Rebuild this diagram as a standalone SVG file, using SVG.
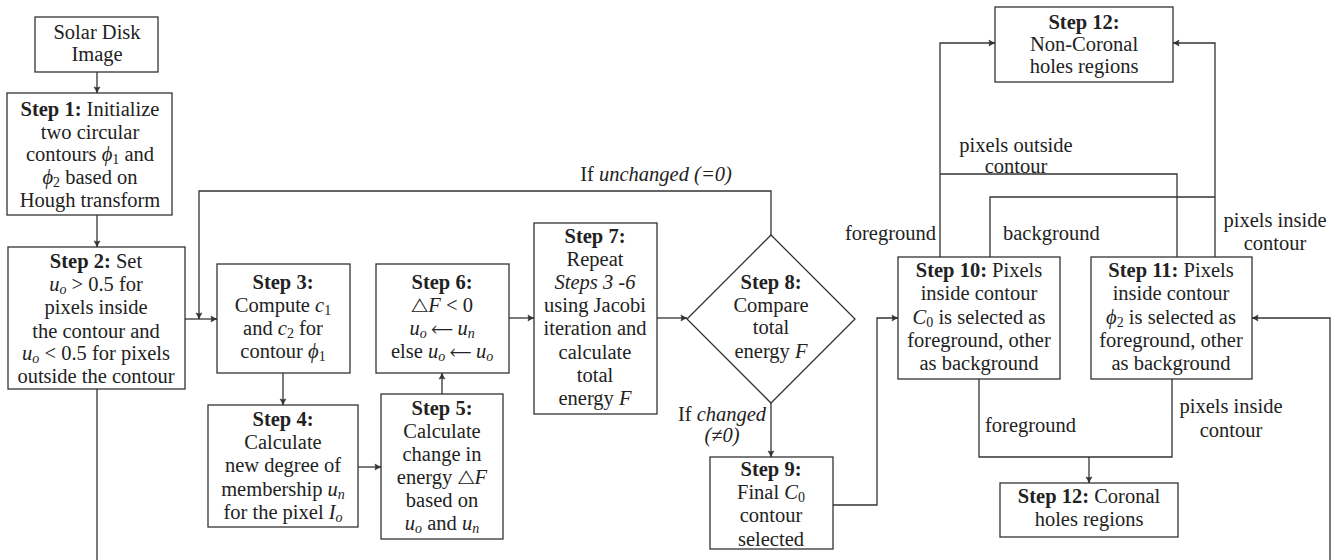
<svg xmlns="http://www.w3.org/2000/svg" width="1338" height="560" viewBox="0 0 1338 560">
<style>
.t{font-family:"Liberation Serif","Times New Roman",Tinos,"Nimbus Roman","Nimbus Roman No9 L",FreeSerif,Times,"DejaVu Serif","Noto Serif",Georgia,serif;font-size:20.5px;fill:#222;text-anchor:middle}
.l{text-anchor:start}
.e{text-anchor:end}
.b{font-weight:bold}
.i{font-style:italic}
.s{font-size:14px}
.box{fill:#fff;stroke:#333;stroke-width:1.3}
.ln{fill:none;stroke:#333;stroke-width:1.3}
.a{marker-end:url(#ah)}
</style>
<defs>
<marker id="ah" markerWidth="8" markerHeight="8" refX="7" refY="4" orient="auto" markerUnits="userSpaceOnUse">
<path d="M1,1 Q4,3.2 7,4 Q4,4.8 1,7 Q2.5,4 1,1 Z" fill="#333" stroke="#333" stroke-width="0.6"/>
</marker>
</defs>
<g id="connectors">
<path class="ln a" d="M97,72 V93"/>
<path class="ln a" d="M97,215 V247"/>
<path class="ln a" d="M185,319 H217"/>
<path class="ln a" d="M771,235 V191 H199 V319"/>
<path class="ln a" d="M283,373 V405"/>
<path class="ln a" d="M358,467 H381"/>
<path class="ln a" d="M442,394 V373"/>
<path class="ln a" d="M509,318 H534"/>
<path class="ln a" d="M657,318 H687"/>
<path class="ln a" d="M771,403 V457"/>
<path class="ln a" d="M833,505 H877 V318 H898"/>
<path class="ln a" d="M940,257 V43 H995"/>
<path class="ln" d="M1177,257 V174 H940"/>
<path class="ln" d="M990,257 V197 H1215"/>
<path class="ln a" d="M1215,257 V43 H1173"/>
<path class="ln" d="M979,379 V457 H1172 V379"/>
<path class="ln a" d="M1089,457 V483"/>
<path class="ln a" d="M97,389 V566 H1330 V318 H1252"/>
<text class="t" x="656" y="181">If <tspan class="i">unchanged (=0)</tspan></text>
<text class="t" x="722" y="421">If <tspan class="i">changed</tspan></text>
<text class="t i" x="722" y="442">(≠0)</text>
<text class="t e" x="936" y="240">foreground</text>
<text class="t l" x="1003" y="240">background</text>
<text class="t" x="1016" y="152">pixels outside</text>
<text class="t" x="1016" y="173">contour</text>
<text class="t" x="1275" y="227">pixels inside</text>
<text class="t" x="1275" y="250">contour</text>
<text class="t l" x="985" y="432">foreground</text>
<text class="t" x="1231" y="413">pixels inside</text>
<text class="t" x="1231" y="437">contour</text>
</g>
<g id="solar">
<rect class="box" x="35" y="17" width="123" height="55"/>
<text class="t" x="97" y="39">Solar Disk</text>
<text class="t" x="97" y="61">Image</text>
</g>
<g id="step1">
<rect class="box" x="7" y="93" width="165" height="122"/>
<text class="t" x="90" y="116"><tspan class="b">Step 1:</tspan> Initialize</text>
<text class="t" x="90" y="139">two circular</text>
<text class="t" x="90" y="161">contours <tspan class="i">ϕ</tspan><tspan class="s" dy="3">1</tspan><tspan dy="-3"> and</tspan></text>
<text class="t" x="90" y="184"><tspan class="i">ϕ</tspan><tspan class="s" dy="3">2</tspan><tspan dy="-3"> based on</tspan></text>
<text class="t" x="90" y="207">Hough transform</text>
</g>
<g id="step2">
<rect class="box" x="8" y="247" width="177" height="142"/>
<text class="t" x="96" y="268"><tspan class="b">Step 2:</tspan> Set</text>
<text class="t" x="96" y="291"><tspan class="i">u</tspan><tspan class="s i" dy="3">o</tspan><tspan dy="-3">  &gt;  0.5 for</tspan></text>
<text class="t" x="96" y="314">pixels inside</text>
<text class="t" x="96" y="338">the contour and</text>
<text class="t" x="96" y="360"><tspan class="i">u</tspan><tspan class="s i" dy="3">o</tspan><tspan dy="-3"> &lt; 0.5 for pixels</tspan></text>
<text class="t" x="96" y="383">outside the contour</text>
</g>
<g id="step3">
<rect class="box" x="217" y="264" width="133" height="109"/>
<text class="t b" x="283" y="289">Step 3:</text>
<text class="t" x="283" y="312">Compute <tspan class="i">c</tspan><tspan class="s" dy="3">1</tspan></text>
<text class="t" x="283" y="335">and <tspan class="i">c</tspan><tspan class="s" dy="3">2</tspan><tspan dy="-3"> for</tspan></text>
<text class="t" x="283" y="358">contour <tspan class="i">ϕ</tspan><tspan class="s" dy="3">1</tspan></text>
</g>
<g id="step4">
<rect class="box" x="208" y="405" width="150" height="122"/>
<text class="t b" x="283" y="426">Step 4:</text>
<text class="t" x="283" y="449">Calculate</text>
<text class="t" x="283" y="472">new degree of</text>
<text class="t" x="283" y="496">membership <tspan class="i">u</tspan><tspan class="s i" dy="3">n</tspan></text>
<text class="t" x="283" y="519">for the pixel <tspan class="i">I</tspan><tspan class="s i" dy="3">o</tspan></text>
</g>
<g id="step5">
<rect class="box" x="381" y="394" width="122" height="145"/>
<text class="t b" x="442" y="415">Step 5:</text>
<text class="t" x="442" y="438">Calculate</text>
<text class="t" x="442" y="461">change in</text>
<text class="t" x="442" y="484">energy △<tspan class="i">F</tspan></text>
<text class="t" x="442" y="507">based on</text>
<text class="t" x="442" y="530"><tspan class="i">u</tspan><tspan class="s i" dy="3">o</tspan><tspan dy="-3"> and </tspan><tspan class="i">u</tspan><tspan class="s i" dy="3">n</tspan></text>
</g>
<g id="step6">
<rect class="box" x="376" y="264" width="133" height="109"/>
<text class="t b" x="442" y="289">Step 6:</text>
<text class="t" x="442" y="312">△<tspan class="i">F</tspan> &lt; 0</text>
<text class="t" x="442" y="335"><tspan class="i">u</tspan><tspan class="s i" dy="3">o</tspan><tspan dy="-3"> ⟵ </tspan><tspan class="i">u</tspan><tspan class="s i" dy="3">n</tspan></text>
<text class="t" x="442" y="358">else <tspan class="i">u</tspan><tspan class="s i" dy="3">o</tspan><tspan dy="-3"> ⟵ </tspan><tspan class="i">u</tspan><tspan class="s i" dy="3">o</tspan></text>
</g>
<g id="step7">
<rect class="box" x="534" y="223" width="123" height="191"/>
<text class="t b" x="595" y="243">Step 7:</text>
<text class="t" x="595" y="266">Repeat</text>
<text class="t i" x="595" y="289">Steps 3 -6</text>
<text class="t" x="595" y="312">using Jacobi</text>
<text class="t" x="595" y="335">iteration and</text>
<text class="t" x="595" y="359">calculate</text>
<text class="t" x="595" y="382">total</text>
<text class="t" x="595" y="405">energy <tspan class="i">F</tspan></text>
</g>
<g id="step8">
<polygon class="box" points="771,235 855,319 771,403 687,319"/>
<text class="t b" x="771" y="289">Step 8:</text>
<text class="t" x="771" y="312">Compare</text>
<text class="t" x="771" y="334">total</text>
<text class="t" x="771" y="358">energy <tspan class="i">F</tspan></text>
</g>
<g id="step9">
<rect class="box" x="710" y="457" width="123" height="92"/>
<text class="t b" x="771" y="476">Step 9:</text>
<text class="t" x="771" y="499">Final <tspan class="i">C</tspan><tspan class="s" dy="3">0</tspan></text>
<text class="t" x="771" y="522">contour</text>
<text class="t" x="771" y="546">selected</text>
</g>
<g id="step10">
<rect class="box" x="898" y="257" width="162" height="122"/>
<text class="t" x="979" y="277"><tspan class="b">Step 10:</tspan> Pixels</text>
<text class="t" x="979" y="300">inside contour</text>
<text class="t" x="979" y="324"><tspan class="i">C</tspan><tspan class="s" dy="3">0</tspan><tspan dy="-3"> is selected as</tspan></text>
<text class="t" x="979" y="347">foreground, other</text>
<text class="t" x="979" y="370">as background</text>
</g>
<g id="step11">
<rect class="box" x="1091" y="257" width="161" height="122"/>
<text class="t" x="1171" y="277"><tspan class="b">Step 11:</tspan> Pixels</text>
<text class="t" x="1171" y="300">inside contour</text>
<text class="t" x="1171" y="324"><tspan class="i">ϕ</tspan><tspan class="s" dy="3">2</tspan><tspan dy="-3"> is selected as</tspan></text>
<text class="t" x="1171" y="347">foreground, other</text>
<text class="t" x="1171" y="370">as background</text>
</g>
<g id="step12a">
<rect class="box" x="995" y="7" width="178" height="75"/>
<text class="t b" x="1084" y="29">Step 12:</text>
<text class="t" x="1084" y="51">Non-Coronal</text>
<text class="t" x="1084" y="73">holes regions</text>
</g>
<g id="step12b">
<rect class="box" x="1000" y="483" width="178" height="54"/>
<text class="t" x="1089" y="503"><tspan class="b">Step 12:</tspan> Coronal</text>
<text class="t" x="1089" y="526">holes regions</text>
</g>
</svg>
